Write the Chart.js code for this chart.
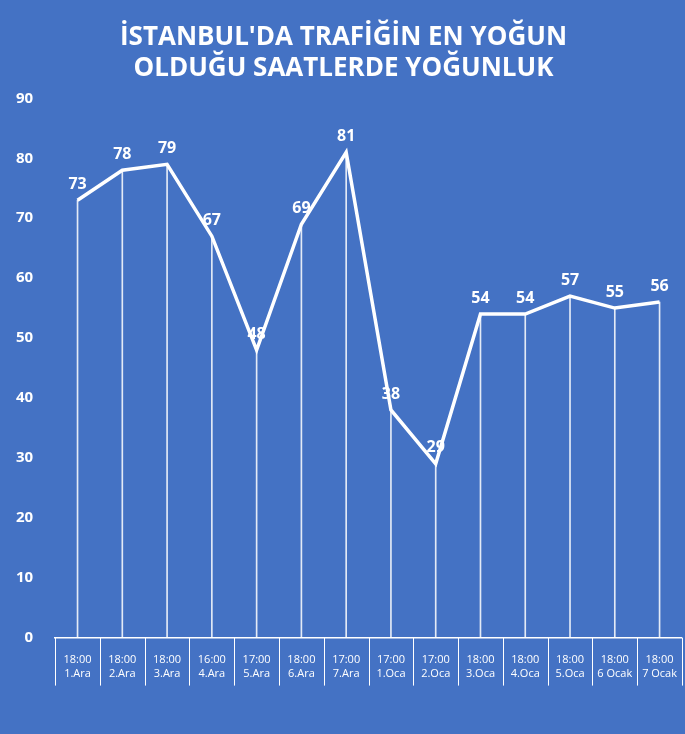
<!DOCTYPE html>
<html><head><meta charset="utf-8">
<script src="https://cdn.jsdelivr.net/npm/chart.js@4"></script>
<style>html,body{margin:0;padding:0;background:#4472C4;}#w{width:685px;height:734px;}</style>
</head><body><div id="w"><canvas id="c"></canvas></div>
<script>
const times = ["18:00","18:00","18:00","16:00","17:00","18:00","17:00","17:00","17:00","18:00","18:00","18:00","18:00","18:00"];
const days = ["1.Ara","2.Ara","3.Ara","4.Ara","5.Ara","6.Ara","7.Ara","1.Oca","2.Oca","3.Oca","4.Oca","5.Oca","6 Ocak","7 Ocak"];
const values = [73,78,79,67,48,69,81,38,29,54,54,57,55,56];
const titleLines = ["İSTANBUL'DA TRAFİĞİN EN YOĞUN","OLDUĞU SAATLERDE YOĞUNLUK"];
const labels = times.map((t,i)=>[t,days[i]]);
const extras = {
  id:'ex',
  afterDatasetsDraw(chart){
    const ctx=chart.ctx, meta=chart.getDatasetMeta(1), xs=chart.scales.x, b=chart.chartArea.bottom;
    ctx.save();ctx.fillStyle='#fff';ctx.font='bold 16px "Open Sans"';ctx.textAlign='center';ctx.textBaseline='bottom';
    meta.data.forEach((p,i)=>ctx.fillText(values[i],p.x,p.y-8));
    const w=xs.getPixelForValue(1)-xs.getPixelForValue(0);
    ctx.strokeStyle='#fff';ctx.lineWidth=1;
    for(let i=0;i<=values.length;i++){
      const x=Math.round(xs.getPixelForValue(0)-w/2+i*w)+0.5;
      ctx.beginPath();ctx.moveTo(x,b);ctx.lineTo(x,b+48);ctx.stroke();
    }
    ctx.restore();
  }
};
new Chart(document.getElementById('c'),{
  data:{labels,datasets:[
    {type:'bar',data:values,backgroundColor:'rgba(255,255,255,0.85)',barThickness:1,order:2},
    {type:'line',data:values,borderColor:'#fff',borderWidth:3.5,pointRadius:0,tension:0,order:1}
  ]},
  plugins:[extras],
  options:{
    responsive:true,maintainAspectRatio:false,animation:false,
    layout:{padding:{left:2,right:0,top:22,bottom:46}},
    plugins:{legend:{display:false},tooltip:{enabled:false},
      title:{display:true,text:titleLines,color:'#fff',font:{family:'Open Sans',size:26,weight:'bold'},lineHeight:1.3,padding:{top:0,bottom:14}}},
    scales:{
      y:{min:0,max:90,ticks:{stepSize:10,color:'#fff',font:{family:'Open Sans',size:15,weight:'bold'},padding:14},
        grid:{display:false},border:{display:false}},
      x:{offset:true,grid:{display:false},
        border:{display:true,color:'#fff',width:1.5},
        ticks:{color:'#fff',font:{family:'Open Sans',size:11},padding:8,maxRotation:0,autoSkip:false}}
    }
  }
});
</script></body></html>
